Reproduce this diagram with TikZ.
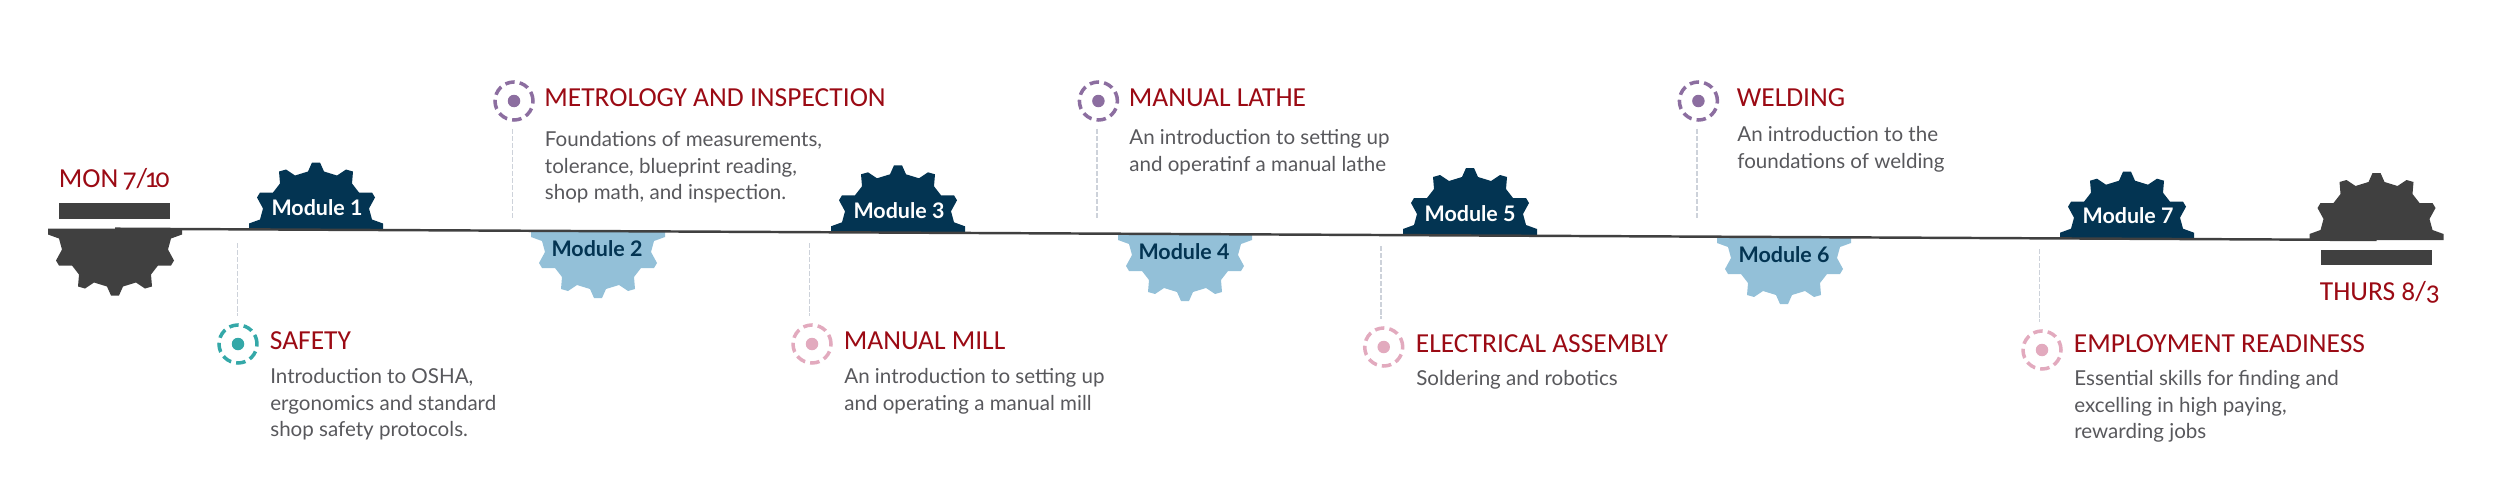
\documentclass[tikz,border=0pt]{standalone}
\usepackage{fontspec}
\setmainfont{Lato}
\newfontfamily\headfont[Numbers=OldStyle]{Carlito}
\usetikzlibrary{positioning}
\definecolor{navyG}{RGB}{3,52,82}
\definecolor{skyG}{RGB}{147,192,216}
\definecolor{coalG}{RGB}{64,64,64}
\definecolor{wineT}{RGB}{155,10,20}
\definecolor{bodyT}{RGB}{88,88,92}
\definecolor{tealR}{RGB}{52,168,168}
\definecolor{plumR}{RGB}{140,110,160}
\definecolor{roseR}{RGB}{226,170,190}
\definecolor{stemC}{RGB}{205,210,218}

\begin{document}
\begin{tikzpicture}[
  x=0.02cm,y=-0.02cm,
  gear/.pic={
    \fill[pic actions] (-67,0) -- (-67,-6) -- (-56,-10) -- (-53,-21) -- (-59,-32) -- (-56,-37) -- (-43,-37)
      -- (-36,-46) -- (-37,-58) -- (-30,-60) -- (-21,-54) -- (-8,-58) -- (-4,-67) -- (4,-67) -- (8,-58)
      -- (21,-54) -- (30,-60) -- (37,-58) -- (36,-46) -- (43,-37) -- (56,-37) -- (59,-32) -- (53,-21)
      -- (56,-10) -- (67,-6) -- (67,0) -- cycle;
  },
  head/.style={font=\headfont\fontsize{15.65}{18}\selectfont,text=wineT,anchor=base west,inner sep=0pt},
  body/.style={font=\fontsize{11.7}{15.2}\selectfont,text=bodyT,align=left,anchor=north west,inner sep=0pt},
  modtext/.style={font=\bfseries\fontsize{12.2}{14}\selectfont,anchor=base,inner sep=0pt},
  bar/.style={fill=coalG,minimum width=2.22cm,minimum height=0.31cm,inner sep=0pt},
  ring/.style={circle,draw=#1,line width=2pt,dash pattern=on 5.4pt off 2.9pt,minimum size=0.76cm,inner sep=0pt,outer sep=5pt},
  ringdot/.style={circle,fill=#1,minimum size=0.25cm,inner sep=0pt},
  stem/.style={draw=stemC,line width=1pt,dash pattern=on 3pt off 1pt}
]
  \useasboundingbox (0,0) rectangle (2500,480);

  % Gears on the line
  \pic[fill=coalG,yscale=-1] at (115,228.5) {gear};
  \pic[fill=coalG] at (2376.5,240) {gear};
  \foreach \gx/\gy in {316/229.5,898/232.3,1470/235,2127/238.7} {
    \pic[fill=navyG] at (\gx,\gy) {gear};
  }
  \foreach \gx/\gy in {598/231,1185/234,1784/237} {
    \pic[fill=skyG,yscale=-1] at (\gx,\gy) {gear};
  }
  \coordinate (startG) at (115,228.7);
  \coordinate (endG) at (2376.5,240);
  \draw[coalG,line width=1.4pt] (startG) -- (endG);

  % Module labels
  \foreach \i/\lx/\ly in {1/317/215,3/899/218,5/1470/221,7/2128/223} {
    \node[modtext,text=white] (mod\i) at (\lx,\ly) {Module \i};
  }
  \foreach \i/\lx/\ly in {2/597/256,4/1184/259,6/1784/262} {
    \node[modtext,text=navyG] (mod\i) at (\lx,\ly) {Module \i};
  }

  % Start and end
  \node[bar] (barA) at (114.5,211) {};
  \node[bar] (barB) at (2376.5,257.5) {};
  \node[head] (dateA) at (58.5,187) {MON\kern-1pt{} 7/\kern-1.6pt 1\kern-1.6pt 0};
  \node[head] (dateB) at (2319.5,300) {THURS 8/3};

  % Rings and stems, top row
  \foreach \n/\col/\rx/\ry/\sx/\sy in {met/plumR/514/101/512.6/219,lathe/plumR/1098.4/101/1097/219,weld/plumR/1698.4/101/1696.6/219} {
    \node[ring=\col] (ring\n) at (\rx,\ry) {};
    \node[ringdot=\col] (dot\n) at (ring\n) {};
    \coordinate (stem\n) at (\sx,\sy);
    \draw[stem] (stem\n |- ring\n.south) -- (stem\n);
  }
  % Rings and stems, bottom row
  \foreach \n/\col/\rx/\ry/\sx/\sy in {saf/tealR/238/344/237.5/243,mill/roseR/812/344/809.5/243,elec/roseR/1383.7/347/1381/246,emp/roseR/2042/350/2039.5/249} {
    \node[ring=\col] (ring\n) at (\rx,\ry) {};
    \node[ringdot=\col] (dot\n) at (ring\n) {};
    \coordinate (stem\n) at (\sx,\sy);
    \draw[stem] (stem\n) -- (stem\n |- ring\n.north);
  }

  % Headings
  \node[head] (headsaf) at (269.5,349) {SAFETY};
  \node[head] (headmet) at (544,106) {METROLOGY AND INSPECTION};
  \node[head] (headmill) at (843.5,349) {MANUAL MILL};
  \node[head] (headlathe) at (1128.5,106) {MANUAL LATHE};
  \node[head] (headelec) at (1415.5,352) {ELECTRICAL ASSEMBLY};
  \node[head] (headweld) at (1736.5,106) {WELDING};
  \node[head] (heademp) at (2073.5,352) {EMPLOYMENT READINESS};

  % Text under the headings
  \node[body] (textsaf) at (270,364.3) {\strut Introduction to OSHA,\\ergonomics and standard\\shop safety protocols.};
  \node[body] (textmet) at (544.6,127.3) {\strut Foundations of measurements,\\tolerance, blueprint reading,\\shop math, and inspection.};
  \node[body] (textmill) at (844,364.3) {\strut An introduction to setting up\\and operating a manual mill};
  \node[body] (textlathe) at (1129,125.3) {\strut An introduction to setting up\\and operatinf a manual lathe};
  \node[body] (textelec) at (1416,366.3) {\strut Soldering and robotics};
  \node[body] (textweld) at (1737,122.3) {\strut An introduction to the\\foundations of welding};
  \node[body] (textemp) at (2074,366.3) {\strut Essential skills for finding and\\excelling in high paying,\\rewarding jobs};
\end{tikzpicture}
\end{document}
